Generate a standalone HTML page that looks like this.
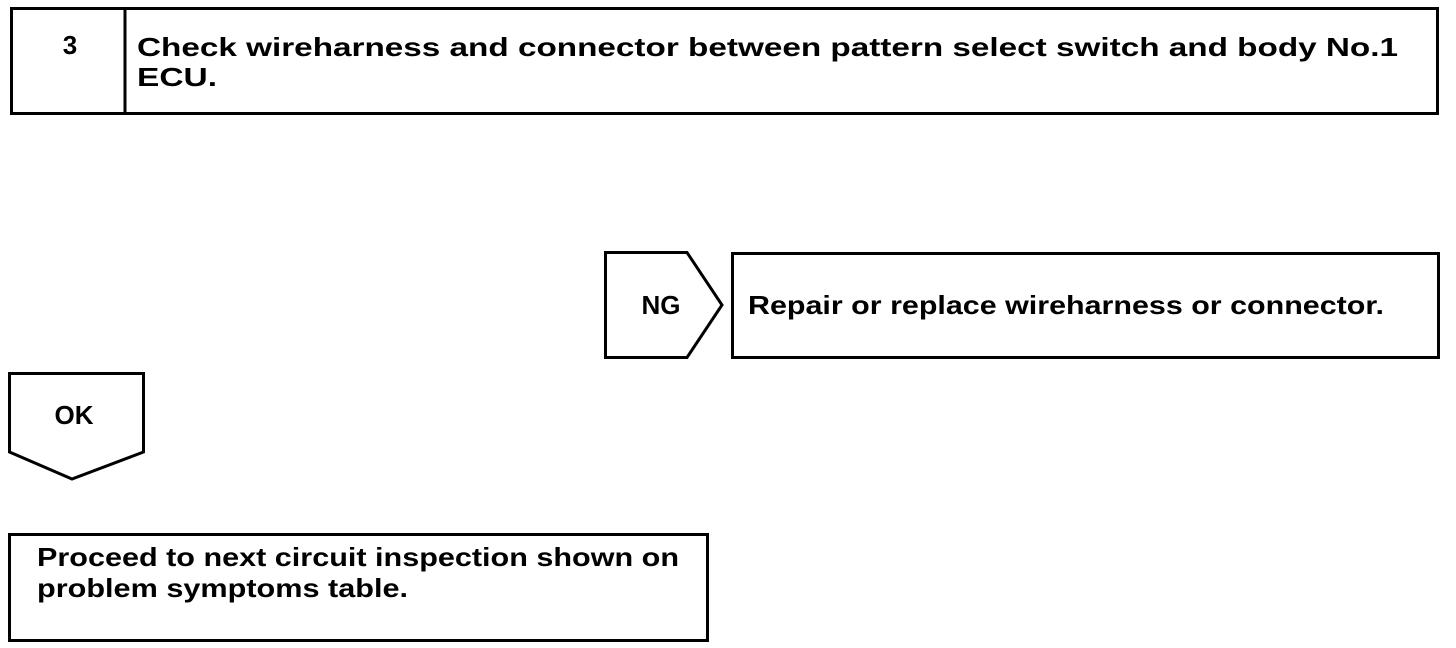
<!DOCTYPE html>
<html><head><meta charset="utf-8"><style>
html,body{margin:0;padding:0;background:#fff;width:1456px;height:648px;overflow:hidden}
svg text{font-family:"Liberation Sans",Arial,sans-serif;font-weight:bold;fill:#000}
</style></head><body>
<svg width="1456" height="648" viewBox="0 0 1456 648" xmlns="http://www.w3.org/2000/svg">
<g fill="none" stroke="#000" stroke-width="3">
<rect x="11.5" y="8.5" width="1426" height="105"/>
<line x1="125" y1="8" x2="125" y2="114"/>
<polygon points="605.5,252.5 687,252.5 722,305 687,357.5 605.5,357.5"/>
<rect x="732.5" y="253.5" width="706" height="104"/>
<polygon points="9.5,373.5 143.5,373.5 143.5,452 72,479 9.5,452"/>
<rect x="9.5" y="534.5" width="698" height="106"/>
</g>
<text x="70" y="54" font-size="26" text-anchor="middle">3</text>
<text x="137" y="56" font-size="26" textLength="1261" lengthAdjust="spacingAndGlyphs">Check wireharness and connector between pattern select switch and body No.1</text>
<text x="137" y="86" font-size="26" textLength="80" lengthAdjust="spacingAndGlyphs">ECU.</text>
<text x="661" y="314" font-size="26" text-anchor="middle">NG</text>
<text x="748" y="314" font-size="26" textLength="636" lengthAdjust="spacingAndGlyphs">Repair or replace wireharness or connector.</text>
<text x="74" y="424" font-size="26" text-anchor="middle">OK</text>
<text x="37" y="566" font-size="26" textLength="642" lengthAdjust="spacingAndGlyphs">Proceed to next circuit inspection shown on</text>
<text x="37" y="597" font-size="26" textLength="371" lengthAdjust="spacingAndGlyphs">problem symptoms table.</text>
</svg>
</body></html>
